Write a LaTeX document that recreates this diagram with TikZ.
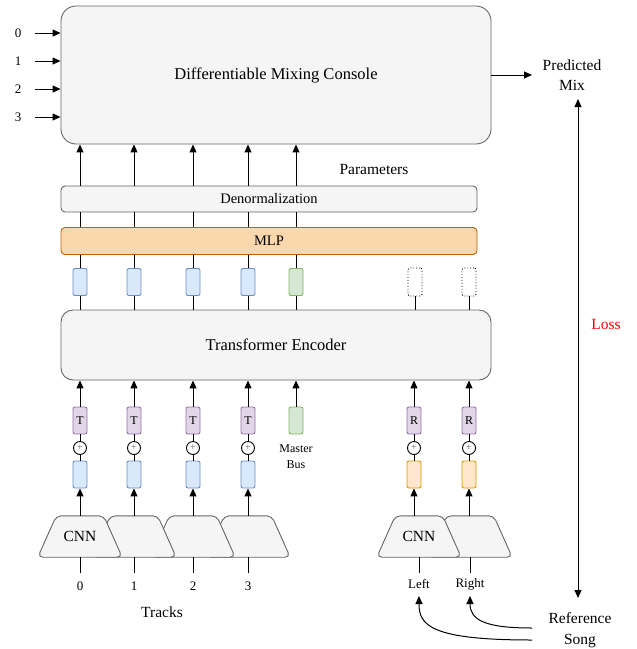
\documentclass[tikz,border=0pt]{standalone}
\usepackage{fontspec}
\setmainfont{Liberation Serif}
\usetikzlibrary{arrows.meta}
\definecolor{gfill}{HTML}{F5F5F5}
\definecolor{gline}{HTML}{666666}
\definecolor{mlpfill}{HTML}{FAD7AC}
\definecolor{mlpline}{HTML}{B46504}
\definecolor{bfill}{HTML}{DAE8FC}
\definecolor{bline}{HTML}{6C8EBF}
\definecolor{grfill}{HTML}{D5E8D4}
\definecolor{grline}{HTML}{82B366}
\definecolor{pfill}{HTML}{E1D5E7}
\definecolor{pline}{HTML}{9673A6}
\definecolor{ofill}{HTML}{FFE6CC}
\definecolor{oline}{HTML}{D79B00}
\tikzset{
  fs/.style={font=\fontsize{#1}{#1}\selectfont},
  bigbox/.style={draw=gline,fill=gfill,line width=0.9pt,inner sep=0pt},
  tok/.style={draw=#1line,fill=#1fill,line width=0.9pt,rounded corners=2pt,minimum width=14pt,minimum height=27pt,inner sep=0pt},
  dottok/.style={draw=black,dotted,line width=0.9pt,rounded corners=2pt,minimum width=14pt,minimum height=28pt,inner sep=0pt},
  plus/.style={circle,draw=black,fill=white,line width=0.9pt,minimum size=13pt,inner sep=0pt},
  cnnbox/.style={minimum width=84pt,minimum height=41pt,inner sep=0pt},
  cnnshape/.style={draw=gline,fill=gfill,line width=0.9pt,rounded corners=5pt},
  arr/.style={-{Triangle[length=8pt,width=7pt]},line width=1pt},
  ln/.style={line width=1pt},
  lbl/.style={inner sep=0pt}
}
\newcommand{\cnntrap}[1]{%
  \draw[cnnshape] (#1.south west) -- ([xshift=18.5pt]#1.north west) -- ([xshift=-18.5pt]#1.north east) -- (#1.south east) -- cycle;}
\begin{document}
\begin{tikzpicture}[x=1pt,y=-1pt]
\useasboundingbox (0,0) rectangle (637,649);

% console
\node[bigbox,rounded corners=15pt,minimum width=430pt,minimum height=138pt,fs=16.5] (console) at (276,75) {Differentiable Mixing Console};
\foreach \i/\y in {0/33,1/61,2/89,3/117}{
  \node[lbl,fs=13] (in\i) at (18,\y) {\i};
  \coordinate (ins\i) at (35,\y);
  \draw[arr] (ins\i) -- (ins\i -| console.west);
}
\node[lbl,fs=15.5,align=center] (pm) at (572,75) {Predicted\\[5pt]Mix};
\coordinate (pmin) at (532,75);
\draw[arr] (console.east |- pmin) -- (pmin);

% denorm and MLP
\node[bigbox,rounded corners=4pt,minimum width=416pt,minimum height=26pt,fs=14.5] (denorm) at (269,199) {Denormalization};
\node[draw=mlpline,fill=mlpfill,line width=0.9pt,inner sep=0pt,rounded corners=4pt,minimum width=416pt,minimum height=27pt,fs=14.5] (mlp) at (269,241) {MLP};
\node[lbl,fs=15.5] (params) at (374,169) {Parameters};

% transformer
\node[bigbox,rounded corners=12pt,minimum width=430pt,minimum height=70pt,fs=16.5] (trans) at (276,345) {Transformer Encoder};

% output tokens
\foreach \i/\x in {0/80,1/134,2/193,3/248}{
  \node[tok=b] (o\i) at (\x,282) {};
}
\node[tok=gr] (o4) at (296,282) {};
\node[dottok] (o5) at (415,282) {};
\node[dottok] (o6) at (469,282) {};
\foreach \i in {0,...,4}{
  \draw[ln] (trans.north -| o\i) -- (o\i.south);
  \draw[ln] (o\i.north) -- (o\i.north |- mlp.south);
  \draw[ln] (o\i.north |- mlp.north) -- (o\i.north |- denorm.south);
  \draw[arr] (o\i.north |- denorm.north) -- (o\i.north |- console.south);
}
\draw[ln] (trans.north -| o5) -- (o5.south);
\draw[ln] (trans.north -| o6) -- (o6.south);

% track inputs
\foreach \i/\x in {3/248,2/193,1/134,0/80}{
  \node[cnnbox] (c\i) at (\x,536.5) {};
  \cnntrap{c\i}
}
\node[fs=15.5,lbl] at (c0.center) {CNN};
\foreach \i/\x in {0/80,1/134,2/193,3/248}{
  \node[tok=p,fs=12] (t\i) at (\x,420.5) {T};
  \node[plus] (p\i) at (\x,448) {};
  \node[fs=10,text=gline,lbl] at (p\i.center) {+};
  \node[tok=b] (e\i) at (\x,474.5) {};
  \draw[arr] (t\i.north) -- (t\i.north |- trans.south);
  \draw[ln] (t\i.south) -- (p\i.north);
  \draw[ln] (p\i.south) -- (e\i.north);
  \draw[arr] (e\i.south |- c\i.north) -- (e\i.south);
  \node[lbl,fs=13] (tl\i) at (\x,586) {\i};
  \coordinate (tb\i) at (\x,573);
  \draw[ln] (c\i.south -| tb\i) -- (tb\i);
}
\node[tok=gr] (mb) at (296,420.5) {};
\draw[arr] (mb.north) -- (mb.north |- trans.south);
\node[lbl,fs=12,align=center] (mbl) at (296,457) {Master\\[4pt]Bus};
\node[lbl,fs=15.5] (tracks) at (162,612) {Tracks};

% reference
\node[cnnbox] (cr) at (470,536.5) {};
\cnntrap{cr}
\node[cnnbox] (cl) at (419,536.5) {};
\cnntrap{cl}
\node[fs=15.5,lbl] at (cl.center) {CNN};
\foreach \n/\x in {l/414,r/469}{
  \node[tok=p,fs=12] (r\n) at (\x,420.5) {R};
  \node[plus] (q\n) at (\x,448) {};
  \node[fs=10,text=gline,lbl] at (q\n.center) {+};
  \node[tok=o] (f\n) at (\x,474.5) {};
  \draw[arr] (r\n.north) -- (r\n.north |- trans.south);
  \draw[ln] (r\n.south) -- (q\n.north);
  \draw[ln] (q\n.south) -- (f\n.north);
}
\draw[arr] (fl.south |- cl.north) -- (fl.south);
\draw[arr] (fr.south |- cr.north) -- (fr.south);
\node[lbl,fs=13] (left) at (419,584) {Left};
\node[lbl,fs=13] (right) at (470,584) {Right};
\coordinate (lb) at (419,573);
\coordinate (rb) at (470,573);
\draw[ln] (cl.south -| lb) -- (lb);
\draw[ln] (cr.south -| rb) -- (rb);

\node[lbl,fs=15.5,align=center] (song) at (580,630) {Reference\\[5pt]Song};
\coordinate (s1) at (532,628);
\coordinate (s2) at (532,640);
\coordinate (lt) at (419,596);
\coordinate (rt) at (470,596);
\draw[arr] (s1) .. controls (485,628) and (470,620) .. (rt);
\draw[arr] (s2) .. controls (430,640) and (419,625) .. (lt);

% loss
\coordinate (lossTop) at (578,99);
\coordinate (lossBot) at (578,598);
\draw[{Triangle[length=8pt,width=7pt]}-{Triangle[length=8pt,width=7pt]},line width=1pt] (lossTop) -- (lossBot);
\node[lbl,fs=15.5,text=red] (loss) at (606,324) {Loss};
\end{tikzpicture}
\end{document}
